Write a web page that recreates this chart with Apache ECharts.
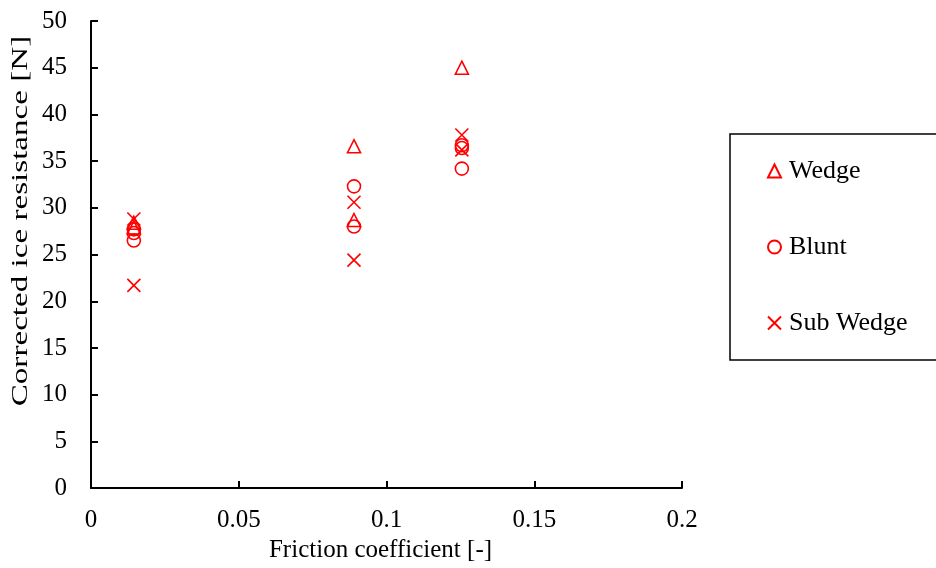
<!DOCTYPE html>
<html><head><meta charset="utf-8">
<script src="https://cdn.jsdelivr.net/npm/echarts@6/dist/echarts.min.js"></script>
<style>html,body{margin:0;padding:0;background:#fff}#c{width:936px;height:568px}</style>
</head><body><div id="c"></div>
<script>
const seriesNames = ['Wedge', 'Blunt', 'Sub Wedge'];
const wedgeX = [0.0145, 0.0145, 0.089, 0.089, 0.1255];
const wedgeY = [28.4, 27.9, 36.6, 28.7, 45.0];
const bluntX = [0.0145, 0.0145, 0.0145, 0.089, 0.089, 0.1255, 0.1255, 0.1255];
const bluntY = [27.7, 27.3, 26.5, 32.3, 28.0, 36.7, 36.4, 34.2];
const subX = [0.0145, 0.0145, 0.089, 0.089, 0.1255, 0.1255];
const subY = [28.8, 21.7, 30.6, 24.4, 37.8, 36.2];
const xTicks = [0, 0.05, 0.1, 0.15, 0.2];
const yTicks = [0, 5, 10, 15, 20, 25, 30, 35, 40, 45, 50];
const xTitle = 'Friction coefficient [-]';
const yTitle = 'Corrected ice resistance [N]';

const font = 'Liberation Serif';
const red = '#ff0000';
function pts(xs, ys){ return xs.map((x,i)=>[x, ys[i]]); }
const chart = echarts.init(document.getElementById('c'));
const base = {type:'scatter', symbolSize: 13,
  itemStyle:{color:'rgba(255,255,255,0)', borderColor: red, borderWidth: 1.6, opacity:1},
  emphasis:{disabled:true}};
chart.setOption({
  animation:false,
  backgroundColor:'#fff',
  grid:{left:91, right:254, top:21, bottom:79},
  xAxis:{type:'value', min:0, max:0.2, interval:0.05,
    name:xTitle, nameLocation:'middle', nameGap:46,
    nameTextStyle:{fontFamily:font, fontSize:25, color:'#000', padding:[0,12,0,0]},
    axisLine:{onZero:false, lineStyle:{color:'#000', width:2}},
    axisTick:{inside:true, length:7, lineStyle:{color:'#000', width:2}},
    axisLabel:{fontFamily:font, fontSize:25, color:'#000', margin:20,
      formatter: v => { const t = xTicks.find(k=>Math.abs(k-v)<1e-9); return t===undefined?'':String(t); }},
    splitLine:{show:false}},
  yAxis:{type:'value', min:0, max:50, interval:5,
    axisLine:{show:true, lineStyle:{color:'#000', width:2}},
    axisTick:{show:true, inside:true, length:7, lineStyle:{color:'#000', width:2}},
    axisLabel:{fontFamily:font, fontSize:25, color:'#000', margin:24,
      formatter: v => yTicks.includes(v) ? String(v) : ''},
    splitLine:{show:false}},
  graphic:[{type:'text', x:21, y:221, rotation:Math.PI/2, scaleX:1.38, silent:true,
    style:{text:yTitle, fontFamily:font, fontSize:24, fill:'#000',
      align:'center', verticalAlign:'middle', textAlign:'center', textVerticalAlign:'middle'}}],
  legend:{orient:'vertical', left:730, top:134, itemGap:50, itemWidth:13, itemHeight:13,
    padding:[24, 40, 24, 37], borderColor:'#000', borderWidth:1.5,
    textStyle:{fontFamily:font, fontSize:26, color:'#000', padding:[0,0,0,3]},
    data: seriesNames},
  series:[
    Object.assign({}, base, {name:seriesNames[0], symbol:'triangle', data: pts(wedgeX, wedgeY)}),
    Object.assign({}, base, {name:seriesNames[1], symbol:'circle', data: pts(bluntX, bluntY)}),
    Object.assign({}, base, {name:seriesNames[2], symbol:'path://M0,0L10,10M10,0L0,10', data: pts(subX, subY)})
  ]
});
</script></body></html>
